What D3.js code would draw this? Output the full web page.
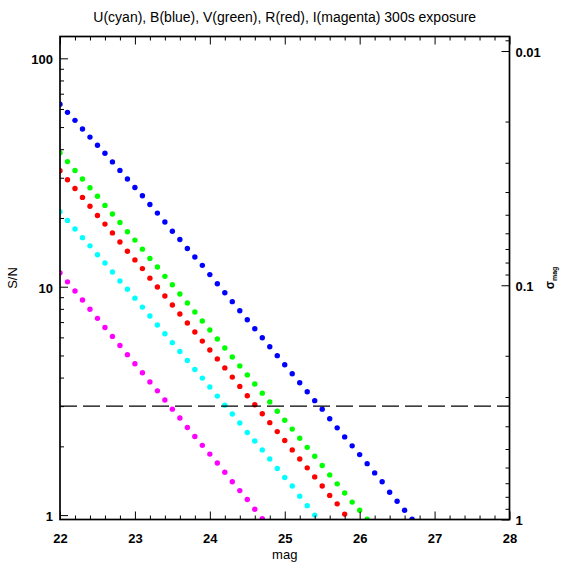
<!DOCTYPE html>
<html>
<head>
<meta charset="utf-8">
<script src="https://cdn.jsdelivr.net/npm/d3@7"></script>
<style>
body { margin: 0; background: #fff; }
svg { font-family: "Liberation Sans", Arial, Helvetica, sans-serif; }
.axis path.domain { display: none; }
.axis line { stroke: #000; stroke-width: 1; }
.axis text { font-size: 13px; font-weight: bold; fill: #000; }
</style>
</head>
<body>
<svg id="chart" width="567" height="564"></svg>
<script>
// magnitude grid (0.1 mag steps) shared by all bands
const mags = [22.0, 22.1, 22.2, 22.3, 22.4, 22.5, 22.6, 22.7, 22.8, 22.9,
	23.0, 23.1, 23.2, 23.3, 23.4, 23.5, 23.6, 23.7, 23.8, 23.9,
	24.0, 24.1, 24.2, 24.3, 24.4, 24.5, 24.6, 24.7, 24.8, 24.9,
	25.0, 25.1, 25.2, 25.3, 25.4, 25.5, 25.6, 25.7, 25.8, 25.9,
	26.0, 26.1, 26.2, 26.3, 26.4, 26.5, 26.6, 26.7];

// S/N, one value per mag step starting at 22.0
const snrU = [21.3, 19.5, 17.9, 16.4, 15.1, 13.8, 12.7, 11.6, 10.6, 9.74,
	8.91, 8.14, 7.44, 6.80, 6.22, 5.69, 5.20, 4.75, 4.34, 3.98,
	3.64, 3.32, 3.03, 2.77, 2.53, 2.30, 2.11, 1.93, 1.76, 1.60,
	1.46, 1.34, 1.21, 1.10, 1.00];
const snrB = [62.9, 58.0, 53.5, 49.0, 45.2, 41.6, 38.4, 35.2, 32.3, 29.6,
	27.2, 25.0, 22.9, 21.0, 19.2, 17.5, 16.1, 14.7, 13.5, 12.4,
	11.3, 10.3, 9.41, 8.60, 7.85, 7.17, 6.55, 5.98, 5.46, 4.99,
	4.55, 4.16, 3.80, 3.47, 3.17, 2.91, 2.64, 2.41, 2.20, 2.01,
	1.84, 1.68, 1.53, 1.40, 1.26, 1.15, 1.05, 0.96];
const snrV = [38.6, 35.3, 32.3, 29.6, 27.1, 24.9, 22.7, 20.8, 19.1, 17.4,
	16.0, 14.6, 13.3, 12.2, 11.1, 10.2, 9.29, 8.49, 7.75, 7.08,
	6.46, 5.90, 5.39, 4.92, 4.50, 4.11, 3.75, 3.42, 3.13, 2.85,
	2.60, 2.38, 2.17, 1.98, 1.81, 1.65, 1.50, 1.37, 1.25, 1.14,
	1.05, 0.96];
const snrR = [32.2, 29.4, 26.9, 24.6, 22.5, 20.5, 18.8, 17.2, 15.7, 14.3,
	13.1, 12.0, 10.9, 9.97, 9.11, 8.32, 7.60, 6.94, 6.33, 5.78,
	5.28, 4.83, 4.41, 4.02, 3.66, 3.33, 3.04, 2.78, 2.54, 2.32,
	2.12, 1.93, 1.76, 1.61, 1.47, 1.34, 1.22, 1.12, 1.01];
const snrI = [11.5, 10.5, 9.58, 8.74, 7.97, 7.27, 6.63, 6.06, 5.53, 5.04,
	4.60, 4.20, 3.83, 3.50, 3.19, 2.91, 2.66, 2.42, 2.21, 2.02,
	1.85, 1.69, 1.54, 1.40, 1.28, 1.17, 1.06, 0.965];

const bands = ["U", "B", "V", "R", "I"];
const bandColors = ["#00ffff", "#0000ff", "#00ff00", "#ff0000", "#ff00ff"];
const bandValues = [snrU, snrB, snrV, snrR, snrI];

const snrLimit = 3;
const xTicks = [22, 23, 24, 25, 26, 27, 28];
const yTicks = [1, 10, 100];
const sigmaTicks = [0.01, 0.1, 1];
const sigmaLabels = ["0.01", "0.1", "1"];
const titleText = "U(cyan), B(blue), V(green), R(red), I(magenta) 300s exposure";

const svg = d3.select("svg#chart");
const margin = { top: 36.5, right: 57.5, bottom: 44.5, left: 60 };
const width = +svg.attr("width");
const height = +svg.attr("height");
const chartWidth = width - margin.left - margin.right;
const chartHeight = height - margin.top - margin.bottom;

const x = d3.scaleLinear([22, 28], [0, chartWidth]);
const y = d3.scaleLog([0.9566, 124.6], [chartHeight, 0]);
const ySigma = d3.scaleLog([1, 0.00867], [chartHeight, 0]);

const g = svg.append("g").attr("transform", `translate(${margin.left},${margin.top})`);

svg.append("defs").append("clipPath").attr("id", "plotClip")
	.append("rect").attr("width", chartWidth).attr("height", chartHeight);

// points
const dots = g.append("g").attr("clip-path", "url(#plotClip)");
bands.forEach((b, i) => {
	const pts = bandValues[i].map((v, j) => ({ mag: mags[j], snr: v }));
	dots.selectAll(`circle.band-${b}`)
		.data(pts)
		.join("circle")
		.attr("class", `band-${b}`)
		.attr("r", 2.7)
		.attr("cx", (d) => x(d.mag))
		.attr("cy", (d) => y(d.snr))
		.attr("fill", bandColors[i]);
});

// S/N = 3 line
g.append("line")
	.attr("x1", 0).attr("x2", chartWidth)
	.attr("y1", y(snrLimit)).attr("y2", y(snrLimit))
	.attr("stroke", "#000").attr("stroke-width", 1.2)
	.attr("stroke-dasharray", "17,6");

// minor tick values
const xMinor = d3.range(22, 28.001, 0.2).filter((v) => Math.abs(v - Math.round(v)) > 0.01);
const yMinor = [2, 3, 4, 5, 6, 7, 8, 9, 20, 30, 40, 50, 60, 70, 80, 90];
const sMinor = [0.009, 0.02, 0.03, 0.04, 0.05, 0.06, 0.07, 0.08, 0.09,
	0.2, 0.3, 0.4, 0.5, 0.6, 0.7, 0.8, 0.9];

// bottom
g.append("g").attr("class", "axis").attr("transform", `translate(0,${chartHeight})`)
	.call(d3.axisBottom(x).tickValues(xTicks).tickSize(-8).tickSizeOuter(0).tickPadding(14).tickFormat(d3.format("d")));
g.append("g").attr("class", "axis").attr("transform", `translate(0,${chartHeight})`)
	.call(d3.axisBottom(x).tickValues(xMinor).tickSize(-4).tickSizeOuter(0).tickFormat(""));
// top
g.append("g").attr("class", "axis")
	.call(d3.axisTop(x).tickValues(xTicks).tickSize(-8).tickSizeOuter(0).tickFormat(""));
g.append("g").attr("class", "axis")
	.call(d3.axisTop(x).tickValues(xMinor).tickSize(-4).tickSizeOuter(0).tickFormat(""));
// left
g.append("g").attr("class", "axis")
	.call(d3.axisLeft(y).tickValues(yTicks).tickSize(-8).tickSizeOuter(0).tickPadding(7).tickFormat(d3.format("d")))
	.selectAll("text").attr("dy", "0.42em");
g.append("g").attr("class", "axis")
	.call(d3.axisLeft(y).tickValues(yMinor).tickSize(-4).tickSizeOuter(0).tickFormat(""));
// right (sigma_mag)
g.append("g").attr("class", "axis").attr("transform", `translate(${chartWidth},0)`)
	.call(d3.axisRight(ySigma).tickValues(sigmaTicks).tickSize(-8).tickSizeOuter(0).tickPadding(6)
		.tickFormat((d, i) => sigmaLabels[i]))
	.selectAll("text").attr("dy", "0.42em");
g.append("g").attr("class", "axis").attr("transform", `translate(${chartWidth},0)`)
	.call(d3.axisRight(ySigma).tickValues(sMinor).tickSize(-4).tickSizeOuter(0).tickFormat(""));

// frame
g.append("rect")
	.attr("width", chartWidth).attr("height", chartHeight)
	.attr("fill", "none").attr("stroke", "#000").attr("stroke-width", 1.7);

// titles
svg.append("text")
	.attr("x", margin.left + chartWidth / 2).attr("y", 22)
	.attr("text-anchor", "middle").attr("font-size", 14)
	.text(titleText);
svg.append("text")
	.attr("x", margin.left + chartWidth / 2).attr("y", 559)
	.attr("text-anchor", "middle").attr("font-size", 13)
	.text("mag");
svg.append("text")
	.attr("transform", `translate(17,${margin.top + chartHeight / 2}) rotate(-90)`)
	.attr("text-anchor", "middle").attr("font-size", 13)
	.text("S/N");
const sig = svg.append("text")
	.attr("transform", `translate(554,${margin.top + chartHeight / 2}) rotate(-90)`)
	.attr("text-anchor", "middle").attr("font-weight", "bold");
sig.append("tspan").attr("font-size", 12).text("σ");
sig.append("tspan").attr("font-size", 7).attr("dy", 3).text("mag");
</script>
</body>
</html>
